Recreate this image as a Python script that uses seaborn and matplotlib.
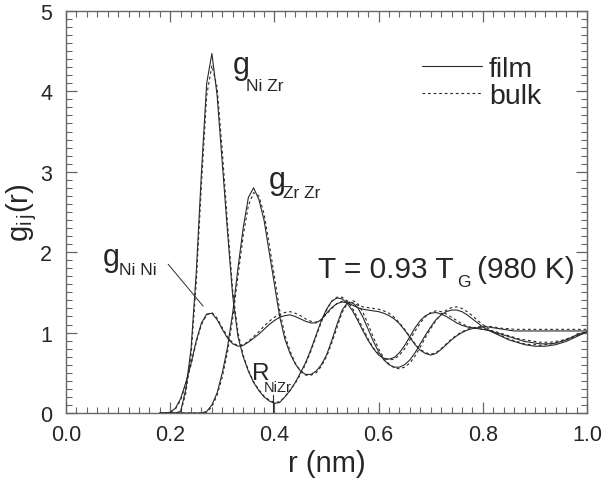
import numpy as np
import pandas as pd
import matplotlib
matplotlib.use('Agg')
import matplotlib.pyplot as plt
from matplotlib.lines import Line2D
from matplotlib.ticker import MultipleLocator, FormatStrFormatter
import seaborn as sns

# r grid (nm), 0.18 ... 1.00 in steps of 0.01
r_nm = np.round(np.arange(18, 101) / 100, 2)

g_nini_film = [0, 0,
    0.01, 0.06, 0.18, 0.38, 0.62, 0.90, 1.12, 1.23, 1.24, 1.16,
    1.04, 0.93, 0.86, 0.83, 0.84, 0.88, 0.93, 0.98, 1.04, 1.10,
    1.15, 1.19, 1.21, 1.22, 1.20, 1.17, 1.14, 1.12, 1.12, 1.16,
    1.24, 1.31, 1.36, 1.38, 1.37, 1.34, 1.31, 1.29, 1.28, 1.27,
    1.26, 1.24, 1.21, 1.17, 1.11, 1.03, 0.94, 0.85, 0.78, 0.74,
    0.72, 0.74, 0.79, 0.85, 0.91, 0.96, 1.00, 1.03, 1.05, 1.06,
    1.07, 1.07, 1.06, 1.05, 1.04, 1.03, 1.02, 1.02, 1.02, 1.02,
    1.02, 1.02, 1.02, 1.02, 1.02, 1.02, 1.02, 1.02, 1.02, 1.02,
    1.02]
g_nini_bulk = [0, 0,
    0.01, 0.05, 0.16, 0.36, 0.60, 0.88, 1.10, 1.22, 1.25, 1.18,
    1.06, 0.95, 0.87, 0.84, 0.85, 0.89, 0.95, 1.01, 1.08, 1.14,
    1.19, 1.23, 1.25, 1.26, 1.24, 1.21, 1.17, 1.14, 1.13, 1.16,
    1.23, 1.30, 1.36, 1.39, 1.39, 1.37, 1.34, 1.32, 1.31, 1.30,
    1.29, 1.27, 1.24, 1.19, 1.12, 1.04, 0.95, 0.86, 0.79, 0.75,
    0.73, 0.75, 0.80, 0.86, 0.92, 0.97, 1.01, 1.04, 1.06, 1.07,
    1.08, 1.08, 1.07, 1.06, 1.05, 1.05, 1.04, 1.04, 1.04, 1.04,
    1.04, 1.04, 1.04, 1.04, 1.04, 1.04, 1.04, 1.04, 1.04, 1.04,
    1.04]
g_nizr_film = [0, 0,
    0, 0, 0.02, 0.30, 0.80, 1.75, 3.00, 4.10, 4.47, 3.95,
    3.10, 2.25, 1.45, 0.95, 0.70, 0.52, 0.38, 0.28, 0.20, 0.15,
    0.12, 0.13, 0.20, 0.28, 0.38, 0.50, 0.63, 0.79, 0.97, 1.15,
    1.29, 1.39, 1.43, 1.42, 1.36, 1.27, 1.15, 1.02, 0.90, 0.80,
    0.72, 0.68, 0.67, 0.69, 0.75, 0.84, 0.95, 1.06, 1.15, 1.21,
    1.24, 1.25, 1.23, 1.20, 1.16, 1.12, 1.09, 1.07, 1.06, 1.05,
    1.04, 1.03, 1.01, 0.99, 0.97, 0.95, 0.93, 0.91, 0.89, 0.88,
    0.87, 0.86, 0.86, 0.86, 0.87, 0.89, 0.91, 0.94, 0.97, 0.99,
    1.01]
g_nizr_bulk = [0, 0,
    0, 0, 0.01, 0.25, 0.72, 1.62, 2.85, 3.95, 4.32, 4.05,
    3.25, 2.35, 1.52, 1.00, 0.72, 0.53, 0.39, 0.29, 0.21, 0.16,
    0.13, 0.14, 0.20, 0.28, 0.37, 0.48, 0.61, 0.77, 0.95, 1.13,
    1.28, 1.39, 1.44, 1.44, 1.39, 1.30, 1.18, 1.05, 0.92, 0.81,
    0.73, 0.68, 0.66, 0.67, 0.72, 0.80, 0.91, 1.02, 1.12, 1.20,
    1.25, 1.27, 1.26, 1.23, 1.19, 1.15, 1.11, 1.08, 1.06, 1.05,
    1.04, 1.03, 1.02, 1.00, 0.98, 0.96, 0.94, 0.92, 0.91, 0.90,
    0.89, 0.88, 0.88, 0.88, 0.89, 0.90, 0.92, 0.94, 0.97, 0.99,
    1.01]
g_zrzr_film = [0, 0,
    0, 0, 0, 0, 0, 0, 0, 0.02, 0.10, 0.25,
    0.50, 0.82, 1.25, 1.80, 2.30, 2.68, 2.80, 2.66, 2.40, 2.00,
    1.60, 1.20, 0.92, 0.74, 0.61, 0.52, 0.48, 0.48, 0.52, 0.60,
    0.72, 0.90, 1.10, 1.28, 1.37, 1.37, 1.31, 1.19, 1.04, 0.89,
    0.76, 0.66, 0.60, 0.57, 0.57, 0.60, 0.66, 0.75, 0.86, 0.97,
    1.07, 1.16, 1.22, 1.26, 1.28, 1.28, 1.26, 1.22, 1.17, 1.12,
    1.07, 1.03, 1.00, 0.97, 0.94, 0.91, 0.89, 0.87, 0.85, 0.84,
    0.83, 0.83, 0.83, 0.84, 0.85, 0.87, 0.89, 0.92, 0.95, 0.98,
    1.01]
g_zrzr_bulk = [0, 0,
    0, 0, 0, 0, 0, 0, 0, 0.01, 0.08, 0.22,
    0.45, 0.76, 1.18, 1.70, 2.20, 2.58, 2.74, 2.70, 2.48, 2.10,
    1.70, 1.28, 0.97, 0.77, 0.62, 0.52, 0.47, 0.47, 0.50, 0.58,
    0.70, 0.87, 1.06, 1.25, 1.36, 1.40, 1.36, 1.25, 1.10, 0.94,
    0.80, 0.68, 0.61, 0.56, 0.55, 0.57, 0.62, 0.71, 0.82, 0.94,
    1.05, 1.15, 1.23, 1.28, 1.31, 1.32, 1.30, 1.26, 1.21, 1.15,
    1.10, 1.05, 1.01, 0.98, 0.95, 0.92, 0.90, 0.88, 0.86, 0.85,
    0.85, 0.84, 0.85, 0.86, 0.87, 0.89, 0.91, 0.93, 0.96, 0.99,
    1.02]

r_nizr_mark = 0.397  # position of R_NiZr marker

series = {
    ('NiNi', 'film'): g_nini_film, ('NiNi', 'bulk'): g_nini_bulk,
    ('NiZr', 'film'): g_nizr_film, ('NiZr', 'bulk'): g_nizr_bulk,
    ('ZrZr', 'film'): g_zrzr_film, ('ZrZr', 'bulk'): g_zrzr_bulk,
}
df = pd.concat([pd.DataFrame({'r': r_nm, 'g': v, 'pair': p, 'sample': s})
                for (p, s), v in series.items()], ignore_index=True)

sns.set_style('ticks')
plt.rcParams['font.family'] = ['Liberation Sans', 'DejaVu Sans']
plt.rcParams['mathtext.fontset'] = 'custom'
plt.rcParams['mathtext.rm'] = 'Liberation Sans'
plt.rcParams['mathtext.it'] = 'Liberation Sans'

line_col = '#2a2a2a'
fig = plt.figure(figsize=(6.03, 4.81), dpi=100)
ax = fig.add_axes([0.1095, 0.1393, 0.864, 0.836])

sns.lineplot(data=df, x='r', y='g', units='pair', style='sample', estimator=None,
             dashes={'film': '', 'bulk': (2.5, 2.5)}, color=line_col, lw=0.8,
             legend=False, ax=ax)

ax.set_xlim(0, 1.0)
ax.set_ylim(0, 5)
ax.xaxis.set_major_locator(MultipleLocator(0.2))
ax.xaxis.set_minor_locator(MultipleLocator(0.02))
ax.yaxis.set_major_locator(MultipleLocator(1))
ax.yaxis.set_minor_locator(MultipleLocator(0.1))
ax.xaxis.set_major_formatter(FormatStrFormatter('%.1f'))
ax.tick_params(which='both', direction='in', top=True, right=True, color='#666666')
ax.tick_params(which='major', length=8, width=0.9, labelsize=15.5)
ax.tick_params(which='minor', length=4.5, width=0.8)
ax.tick_params(axis='y', pad=10)
ax.tick_params(axis='x', pad=8)
for sp in ax.spines.values():
    sp.set_color('#666666')
    sp.set_linewidth(1.0)

ax.set_xlabel('r (nm)', fontsize=21, labelpad=3)
ax.set_ylabel(r'$\mathregular{g_{i\,j}(r)}$', fontsize=21, labelpad=1)

# curve labels
ax.text(0.3205, 4.23, 'g', fontsize=22, va='baseline')
ax.text(0.346, 4.02, 'Ni Zr', fontsize=12.5, va='baseline')
ax.text(0.390, 2.80, 'g', fontsize=22, va='baseline')
ax.text(0.4155, 2.69, 'Zr Zr', fontsize=12.5, va='baseline')
ax.text(0.071, 1.84, 'g', fontsize=22, va='baseline')
ax.text(0.102, 1.73, 'Ni Ni', fontsize=12.5, va='baseline')
ax.plot([0.196, 0.263], [1.85, 1.33], color=line_col, lw=0.7)

ax.text(0.357, 0.42, 'R', fontsize=17.5, va='baseline')
ax.text(0.380, 0.27, 'NiZr', fontsize=10.5, va='baseline')
ax.plot([r_nizr_mark, r_nizr_mark], [0, 0.22], color=line_col, lw=0.8)

ax.text(0.484, 1.69, 'T = 0.93 T', fontsize=21.5, va='baseline')
ax.text(0.750, 1.58, 'G', fontsize=12.5, va='baseline')
ax.text(0.789, 1.69, '(980 K)', fontsize=21.5, va='baseline')

handles = [Line2D([], [], color=line_col, lw=0.8),
           Line2D([], [], color=line_col, lw=0.8, dashes=(2.5, 2.5))]
ax.legend(handles, ['film', 'bulk'], loc='upper left', bbox_to_anchor=(0.683, 0.888),
          frameon=False, fontsize=20.5, handlelength=2.1, handletextpad=0.25,
          labelspacing=0.03, borderpad=0, borderaxespad=0)

fig.savefig('out.png', dpi=100)
